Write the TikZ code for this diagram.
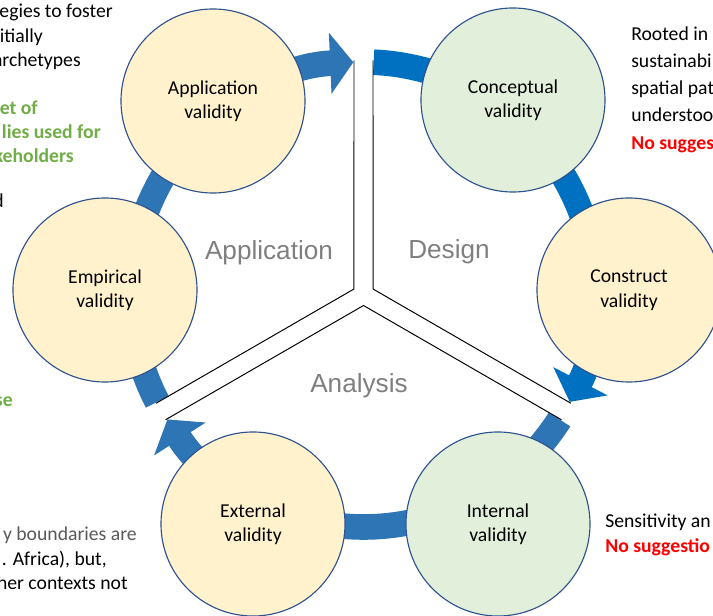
\documentclass[tikz,border=0pt]{standalone}
\usepackage{fontspec}
\setmainfont{Carlito}
\newfontfamily\headfont{Liberation Sans}
\usetikzlibrary{calc,arrows.meta}
\definecolor{ringblue}{HTML}{2E75B6}
\definecolor{designblue}{HTML}{0070C0}
\definecolor{edgeblue}{HTML}{2F528F}
\definecolor{yellowfill}{HTML}{FFF2CC}
\definecolor{greenfill}{HTML}{E2EFDA}
\definecolor{stagegray}{HTML}{7F7F7F}
\definecolor{notegreen}{HTML}{70AD47}
\definecolor{notegray}{HTML}{595959}
\definecolor{notered}{HTML}{FF0000}
\tikzset{
    phase/.style = {draw=edgeblue, line width=0.8pt, circle,
        minimum size=4.6cm, inner sep=0pt, align=center,
        font=\fontsize{14}{17.4}\selectfont},
    band/.style = {line width=0.64cm, draw=ringblue},
    bandtip/.style = {-{Triangle[width=1.5cm,length=0.58cm]}},
    sector/.style = {draw, line width=0.7pt},
    stage/.style = {font=\headfont\fontsize{18.6}{22}\selectfont,
        text=stagegray, anchor=base, inner sep=0pt},
    note/.style = {font=\fontsize{14}{17}\selectfont, inner sep=0pt},
    noteleft/.style = {note, anchor=base east},
    noteright/.style = {note, anchor=base west}
}
\begin{document}
\begin{tikzpicture}[x=0.025cm, y=-0.025cm]
    \clip (0,0) rectangle (713,616);
    \coordinate (O) at (363.5,294.5);
    \coordinate (startApp) at ($(O)+(152.5:232.5)$);
    \coordinate (startDesign) at ($(O)+(272.5:232.5)$);
    \coordinate (startAna) at ($(O)+(32.5:232.5)$);
    \draw[band, bandtip] (startApp) arc[start angle=152.5, end angle=267.5, radius=232.5];
    \draw[band, bandtip, draw=designblue] (startDesign) arc[start angle=272.5, end angle=387.5, radius=232.5];
    \draw[band, bandtip] (startAna) arc[start angle=32.5, end angle=147.5, radius=232.5];

    \coordinate (topL) at ($(O)+(270:234)+(180:9.5)$);
    \coordinate (topR) at ($(O)+(270:234)+(0:9.5)$);
    \coordinate (rightU) at ($(O)+(30:234)+(300:9.5)$);
    \coordinate (rightD) at ($(O)+(30:234)+(120:9.5)$);
    \coordinate (leftU) at ($(O)+(150:234)+(240:9.5)$);
    \coordinate (leftD) at ($(O)+(150:234)+(60:9.5)$);
    \draw[sector] (topL) -- ($(O)+(210:11)$) -- (leftU);
    \draw[sector] (topR) -- ($(O)+(330:11)$) -- (rightU);
    \draw[sector] (leftD) -- ($(O)+(90:11)$) -- (rightD);

    \node[phase, fill=yellowfill] (app) at (213,101) {Application\\validity};
    \node[phase, fill=greenfill] (concept) at (513,100) {Conceptual\\validity};
    \node[phase, fill=yellowfill] (construct) at (629,290) {Construct\\validity};
    \node[phase, fill=greenfill] (internal) at (498,524) {Internal\\validity};
    \node[phase, fill=yellowfill] (external) at (253,524) {External\\validity};
    \node[phase, fill=yellowfill] (empirical) at (105,290) {Empirical\\validity};

    \node[stage] (lblApp) at (269,260) {Application};
    \node[stage] (lblDesign) at (449,259) {Design};
    \node[stage] (lblAna) at (359,393) {Analysis};

    \node[noteleft] (n1) at (113,18) {egies to foster};
    \node[noteleft] (n2) at (43,42.5) {itially};
    \node[noteleft] (n3) at (81,67) {archetypes};
    \node[noteleft, text=notegreen, font=\bfseries\fontsize{14}{17}\selectfont] (n4) at (38,115) {et of};
    \node[noteleft, text=notegreen, font=\bfseries\fontsize{14}{17}\selectfont] (n5) at (101,139) {lies used for};
    \node[noteleft, text=notegreen, font=\bfseries\fontsize{14}{17}\selectfont] (n6) at (74,163) {keholders};
    \node[noteleft] (n7) at (4,208) {d};
    \node[noteleft, text=notegreen, font=\bfseries\fontsize{14}{17}\selectfont] (n8) at (13,407) {se};

    \node[noteleft, text=notegray] (b1) at (137,541) {y boundaries are};
    \node[noteleft] (b2) at (107,566) {. Africa), but,};
    \node[noteleft] (b3) at (128,590) {her contexts not};

    \node[noteright] (r1) at (631,41) {Rooted in};
    \node[noteright] (r2) at (631,68) {sustainabi};
    \node[noteright] (r3) at (631,95) {spatial pat};
    \node[noteright] (r4) at (631,122) {understoo};
    \node[noteright, text=notered, font=\bfseries\fontsize{14}{17}\selectfont] (r5) at (631,150) {No sugges};
    \node[noteright] (s1) at (605,528) {Sensitivity an};
    \node[noteright, text=notered, font=\bfseries\fontsize{14}{17}\selectfont] (s2) at (605,553) {No suggestio};
\end{tikzpicture}
\end{document}
